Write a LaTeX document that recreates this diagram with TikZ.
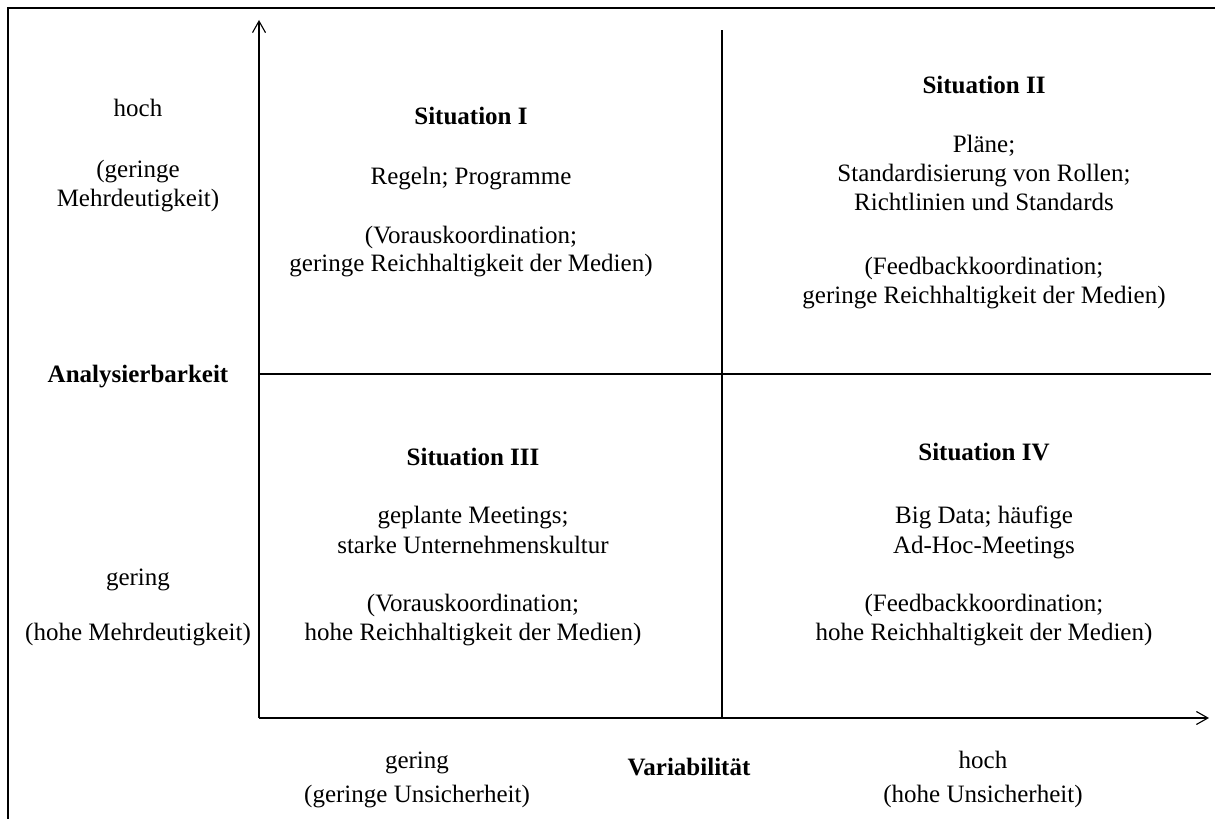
\documentclass[tikz,border=0pt]{standalone}
\usepackage{fontspec}
\setmainfont{Liberation Serif}
\usetikzlibrary{arrows.meta}
\begin{document}
\begin{tikzpicture}[x=0.4pt,y=-0.4pt,
  txt/.style={inner sep=0pt, anchor=base, font=\fontsize{10pt}{11.6pt}\selectfont},
  hd/.style={inner sep=0pt, anchor=base, font=\fontsize{10pt}{11.6pt}\selectfont\bfseries},
  axisline/.style={line width=0.45pt, -{Straight Barb[length=4.6pt,width=5.2pt]}},
  gridline/.style={line width=0.45pt},
  frameline/.style={line width=0.8pt}]
\useasboundingbox (0,0) rectangle (1215,819);
% frame
\draw[frameline] (8,819) -- (8,8.5) -- (1215,8.5);
% coordinates
\coordinate (O) at (259,718);
\coordinate (ytop) at (259,20);
\coordinate (xend) at (1209,718);
\coordinate (vtop) at (722,30);
\coordinate (vbot) at (722,718);
\coordinate (hl) at (259,374);
\coordinate (hr) at (1211,374);
% axes and grid
\draw[axisline] (O) -- (ytop);
\draw[axisline] (O) -- (xend);
\draw[gridline] (vbot) -- (vtop);
\draw[gridline] (hl) -- (hr);
% quadrant I
\node[hd]  (s1)  at (471,125) {Situation I};
\node[txt] (s1a) at (471,185) {Regeln; Programme};
\node[txt] (s1b) at (471,244) {(Vorauskoordination;};
\node[txt] (s1c) at (471,272) {geringe Reichhaltigkeit der Medien)};
% quadrant II
\node[hd]  (s2)  at (984,94) {Situation II};
\node[txt] (s2a) at (984,153) {Pläne;};
\node[txt] (s2b) at (984,182) {Standardisierung von Rollen;};
\node[txt] (s2c) at (984,211) {Richtlinien und Standards};
\node[txt] (s2d) at (984,275) {(Feedbackkoordination;};
\node[txt] (s2e) at (984,304) {geringe Reichhaltigkeit der Medien)};
% quadrant III
\node[hd]  (s3)  at (473,465) {Situation III};
\node[txt] (s3a) at (473,524) {geplante Meetings;};
\node[txt] (s3b) at (473,553) {starke Unternehmenskultur};
\node[txt] (s3c) at (473,611) {(Vorauskoordination;};
\node[txt] (s3d) at (473,640) {hohe Reichhaltigkeit der Medien)};
% quadrant IV
\node[hd]  (s4)  at (984,460) {Situation IV};
\node[txt] (s4a) at (984,524) {Big Data; häufige};
\node[txt] (s4b) at (984,553) {Ad-Hoc-Meetings};
\node[txt] (s4c) at (984,611) {(Feedbackkoordination;};
\node[txt] (s4d) at (984,640) {hohe Reichhaltigkeit der Medien)};
% left axis labels
\node[txt] (yh)  at (138,117) {hoch};
\node[txt] (yh1) at (138,178) {(geringe};
\node[txt] (yh2) at (138,207) {Mehrdeutigkeit)};
\node[hd]  (ylab) at (138,382) {Analysierbarkeit};
\node[txt] (yg)  at (138,585) {gering};
\node[txt] (yg1) at (138,640) {(hohe Mehrdeutigkeit)};
% bottom axis labels
\node[txt] (xg)  at (417,768) {gering};
\node[txt] (xg1) at (417,802) {(geringe Unsicherheit)};
\node[hd]  (xlab) at (689,775) {Variabilität};
\node[txt] (xh)  at (983,768) {hoch};
\node[txt] (xh1) at (983,802) {(hohe Unsicherheit)};
\end{tikzpicture}
\end{document}
